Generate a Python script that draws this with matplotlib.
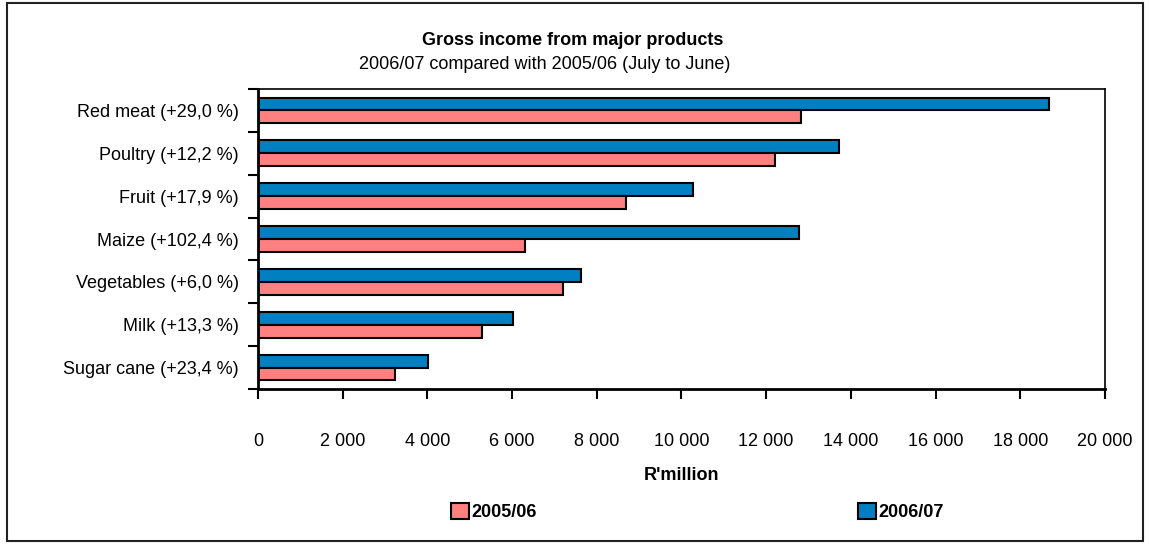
import matplotlib.pyplot as plt
import numpy as np
from matplotlib.patches import Rectangle

plt.rcParams['font.family'] = ['Liberation Sans', 'DejaVu Sans']

# values, R'million, top to bottom
categories = ["Red meat (+29,0 %)", "Poultry (+12,2 %)", "Fruit (+17,9 %)",
              "Maize (+102,4 %)", "Vegetables (+6,0 %)", "Milk (+13,3 %)",
              "Sugar cane (+23,4 %)"]
income_0506 = [12820, 12200, 8690, 6300, 7200, 5300, 3230]
income_0607 = [18680, 13720, 10270, 12770, 7630, 6020, 4010]
xticks = list(range(0, 20001, 2000))
xtick_labels = ["0", "2 000", "4 000", "6 000", "8 000", "10 000", "12 000",
                "14 000", "16 000", "18 000", "20 000"]

fig = plt.figure(figsize=(11.49, 5.46), dpi=100)
ax = fig.add_axes([0.2245, 0.2875, 0.7372, 0.5495])

# outer frame round the whole chart
fig.patches.append(Rectangle((0.006, 0.009), 0.989, 0.985, transform=fig.transFigure,
                             fill=False, edgecolor="#222222", linewidth=1.5))

y = np.arange(len(categories))
h = 0.3
bars_new = ax.barh(y - h / 2, income_0607, height=h, color="#0080C0", edgecolor="black",
                   linewidth=1.5, label="2006/07")
bars_old = ax.barh(y + h / 2, income_0506, height=h, color="#FF8080", edgecolor="black",
                   linewidth=1.5, label="2005/06")

ax.set_xlim(0, 20000)
ax.set_ylim(len(categories) - 0.5, -0.5)

# ticks sit between categories, labels in the middle
ax.set_yticks(np.arange(-0.5, len(categories), 1))
ax.set_yticklabels([])
ax.set_yticks(y, minor=True)
ax.set_yticklabels(categories, minor=True, fontsize=13)
ax.tick_params(axis="y", which="minor", length=0, pad=14)
ax.tick_params(axis="y", which="major", length=7, width=1.5, direction="out")

ax.set_xticks(xticks)
ax.set_xticklabels(xtick_labels, fontsize=13)
ax.tick_params(axis="x", length=7, width=1.5, direction="out", pad=25)

for side in ["left", "bottom"]:
    ax.spines[side].set_linewidth(2)
ax.spines["top"].set_linewidth(1.2)
ax.spines["right"].set_linewidth(1.2)

ax.set_xlabel("R'million", fontsize=13, fontweight="bold", labelpad=12)

fig.text(0.498, 0.925, "Gross income from major products", ha="center", va="center",
         fontsize=13, fontweight="bold")
fig.text(0.474, 0.882, "2006/07 compared with 2005/06 (July to June)", ha="center",
         va="center", fontsize=13)

leg_style = dict(loc="center left", frameon=False, handlelength=1.0, handleheight=1.0,
                 handletextpad=0.15, borderpad=0, prop={"size": 13, "weight": "bold"})
fig.legend([bars_old], ["2005/06"], bbox_to_anchor=(442 / 1149, 0.062), **leg_style)
fig.legend([bars_new], ["2006/07"], bbox_to_anchor=(849 / 1149, 0.062), **leg_style)

fig.savefig("out.png", dpi=100)
